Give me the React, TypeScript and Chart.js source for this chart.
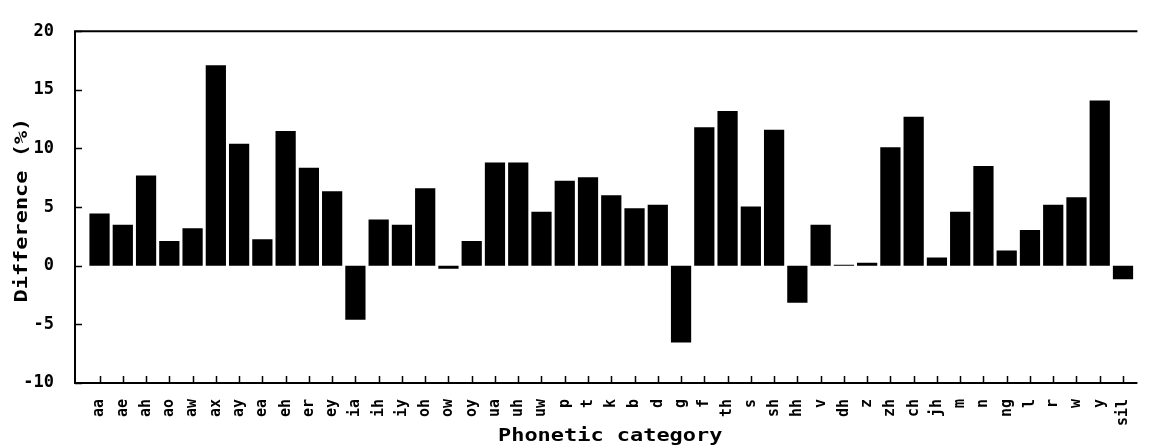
import React, { useEffect, useRef } from "react";
import { Chart, registerables } from "chart.js";

Chart.register(...registerables);

const categories: string[] = [
  "aa", "ae", "ah", "ao", "aw", "ax", "ay", "ea", "eh", "er", "ey", "ia", "ih", "iy", "oh",
  "ow", "oy", "ua", "uh", "uw", "p", "t", "k", "b", "d", "g", "f", "th", "s", "sh",
  "hh", "v", "dh", "z", "zh", "ch", "jh", "m", "n", "ng", "l", "r", "w", "y", "sil",
];

const differences: number[] = [
  4.45, 3.5, 7.7, 2.1, 3.2, 17.1, 10.4, 2.25, 11.5, 8.35, 6.35, -4.6, 3.95, 3.5, 6.6,
  -0.25, 2.1, 8.8, 8.8, 4.6, 7.25, 7.55, 6.0, 4.9, 5.2, -6.55, 11.8, 13.2, 5.05, 11.6,
  -3.15, 3.5, 0.08, 0.25, 10.1, 12.7, 0.7, 4.6, 8.5, 1.3, 3.05, 5.2, 5.85, 14.1, -1.15,
];

const yTickValues: number[] = [-10, -5, 0, 5, 10, 15, 20];

const xTitle = "Phonetic category";
const yTitle = "Difference (%)";

const MONO = "'DejaVu Sans Mono', 'Liberation Mono', monospace";

const framePlugin = {
  id: "frameAndTitles",
  afterDraw(chart: any) {
    const { ctx, chartArea: a, scales } = chart;
    ctx.save();
    ctx.strokeStyle = "#000";
    ctx.lineWidth = 2;
    ctx.beginPath();
    ctx.moveTo(a.left, a.top);
    ctx.lineTo(a.right, a.top);
    ctx.moveTo(a.left, a.top - 1);
    ctx.lineTo(a.left, a.bottom);
    ctx.lineTo(a.right, a.bottom);
    ctx.stroke();

    ctx.lineWidth = 1.5;
    ctx.beginPath();
    yTickValues.forEach((v) => {
      const y = Math.round(scales.y.getPixelForValue(v)) + 0.5;
      ctx.moveTo(a.left, y);
      ctx.lineTo(a.left + 7, y);
    });
    categories.forEach((_, i) => {
      const x = Math.round(scales.x.getPixelForValue(i)) + 0.5;
      ctx.moveTo(x, a.bottom);
      ctx.lineTo(x, a.bottom - 7);
    });
    ctx.stroke();

    ctx.fillStyle = "#000";
    ctx.font = `bold 17px ${MONO}`;
    ctx.textAlign = "center";
    ctx.textBaseline = "middle";

    ctx.save();
    ctx.translate(23, (a.top + a.bottom) / 2 + 3);
    ctx.rotate(-Math.PI / 2);
    ctx.scale(1.29, 1);
    ctx.fillText(yTitle, 0, 0);
    ctx.restore();

    ctx.save();
    ctx.translate((a.left + a.right) / 2 + 4, 437);
    ctx.scale(1.29, 1);
    ctx.fillText(xTitle, 0, 0);
    ctx.restore();

    ctx.restore();
  },
};

export default function App() {
  const canvasRef = useRef<HTMLCanvasElement | null>(null);

  useEffect(() => {
    document.body.style.margin = "0";
    const canvas = canvasRef.current;
    if (!canvas) return;
    const chart = new Chart(canvas, {
      type: "bar",
      data: {
        datasets: [
          {
            label: "Difference",
            data: differences.map((v, i) => ({ x: i, y: v })),
            backgroundColor: "#000",
            borderWidth: 0,
            barPercentage: 0.87,
            categoryPercentage: 1,
          },
        ],
      },
      options: {
        animation: false,
        responsive: true,
        maintainAspectRatio: false,
        layout: { padding: { top: 20, left: 0, right: 0, bottom: 0 } },
        plugins: {
          legend: { display: false },
          tooltip: { enabled: false },
          title: { display: false },
        },
        scales: {
          x: {
            type: "linear",
            min: -1.055,
            max: 44.62,
            offset: false,
            grid: { display: false, drawTicks: false },
            border: { display: false },
            afterBuildTicks: (scale: any) => {
              scale.ticks = categories.map((_, i) => ({ value: i }));
            },
            afterFit: (scale: any) => {
              scale.height = 63;
            },
            ticks: {
              autoSkip: false,
              minRotation: 90,
              maxRotation: 90,
              padding: 16,
              color: "#000",
              font: { family: MONO, size: 15, weight: "bold" },
              callback: (v: any) => categories[Math.round(Number(v))] ?? "",
            },
          },
          y: {
            type: "linear",
            min: -10,
            max: 20,
            grid: { display: false, drawTicks: false },
            border: { display: false },
            afterBuildTicks: (scale: any) => {
              scale.ticks = yTickValues.map((v) => ({ value: v }));
            },
            afterFit: (scale: any) => {
              scale.width = 75;
            },
            ticks: {
              padding: 21,
              color: "#000",
              font: { family: MONO, size: 17, weight: "bold" },
              callback: (v: any) => String(v),
            },
          },
        },
      },
      plugins: [framePlugin],
    });
    return () => chart.destroy();
  }, []);

  return (
    <div style={{ position: "fixed", left: 0, top: 0, width: 1157, height: 446, background: "#fff" }}>
      <canvas ref={canvasRef} />
    </div>
  );
}
